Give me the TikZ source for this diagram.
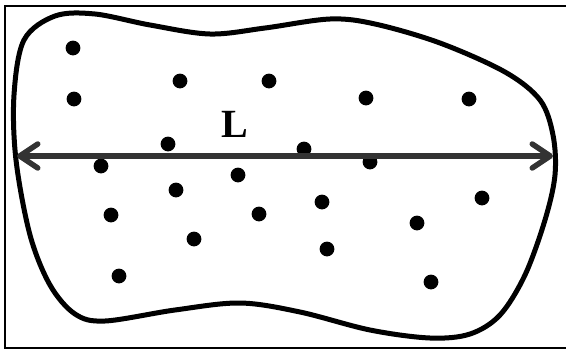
\documentclass[tikz,border=0pt]{standalone}
\usepackage{fontspec}
\setmainfont{Liberation Serif}
\usetikzlibrary{arrows.meta}

\begin{document}
\begin{tikzpicture}[x=1pt, y=-1pt, thick]
  \useasboundingbox (0,0) rectangle (566,349);
  % frame (right edge falls outside the page)
  \draw[line width=2pt] (4.5,5.5) rectangle (572,347.5);

  % region
  \draw[line width=5pt] plot[smooth cycle, tension=0.55] coordinates {
    (16,160) (14,95) (24,40) (55,16) (95,14) (150,25) (210,34) (265,28)
    (330,19) (375,24) (440,43) (505,72) (540,100) (553,135) (555,175)
    (545,220) (525,275) (500,315) (470,334) (430,338) (370,330) (300,312)
    (240,303) (175,310) (105,321) (75,314) (50,285) (30,235)};

  % points
  \foreach \p in {(73,48),(74,99),(180,81),(269,81),(366,98),(469,99),
                  (168,144),(304,149),(101,166),(370,162),(238,175),
                  (176,190),(482,198),(111,215),(259,214),(322,202),
                  (417,223),(194,239),(327,249),(119,276),(431,282)} {
    \fill \p circle (7.4);
  }

  % length
  \coordinate (Lend) at (17,156);
  \coordinate (Rend) at (553,156);
  \draw[line width=5.5pt, black!80,
        {Straight Barb[length=18pt, width=24pt, round]}-{Straight Barb[length=18pt, width=24pt, round]}]
    (Lend) -- (Rend);
  \node (Llab) at (235,124) {\fontsize{40}{40}\selectfont\bfseries L};
\end{tikzpicture}
\end{document}
